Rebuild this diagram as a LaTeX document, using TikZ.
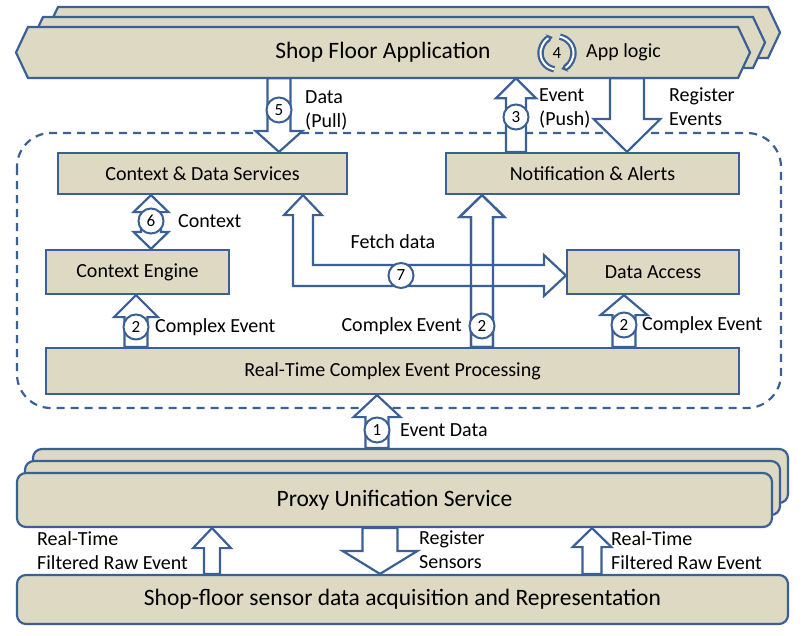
\documentclass[tikz,border=0pt]{standalone}
\usepackage{fontspec}
\setmainfont{Carlito}
\usetikzlibrary{calc,arrows.meta}
\definecolor{tanc}{RGB}{221,217,195}
\definecolor{bluec}{RGB}{58,96,150}
\tikzset{
  box/.style={draw=bluec, fill=tanc, line width=2.2pt, inner sep=0pt, font=\fontsize{20}{23}\selectfont},
  bigbox/.style={box, rounded corners=9pt, font=\fontsize{23.5}{27}\selectfont},
  blockarr/.style={draw=bluec, fill=white, line width=2.2pt, line join=miter},
  num/.style={circle, draw=bluec, fill=white, line width=2pt, minimum size=25pt, inner sep=0pt, font=\fontsize{17}{18}\selectfont},
  lbl/.style={inner sep=0pt, align=left, font=\fontsize{20}{24}\selectfont},
  cyc/.style={draw=bluec, line width=2.2pt, double=white, double distance=2pt},
}
\newcommand{\upblock}[7][]{%
  \filldraw[blockarr,#1] let \p1=(#3), \p2=(#4) in
    (#2pt-#5pt,\y1) -- (#2pt-#5pt,\y2-#7pt) -- (#2pt-#6pt,\y2-#7pt) -- (#2pt,\y2)
    -- (#2pt+#6pt,\y2-#7pt) -- (#2pt+#5pt,\y2-#7pt) -- (#2pt+#5pt,\y1) -- cycle;}
\newcommand{\downblock}[7][]{%
  \filldraw[blockarr,#1] let \p1=(#3), \p2=(#4) in
    (#2pt-#5pt,\y1) -- (#2pt-#5pt,\y2+#7pt) -- (#2pt-#6pt,\y2+#7pt) -- (#2pt,\y2)
    -- (#2pt+#6pt,\y2+#7pt) -- (#2pt+#5pt,\y2+#7pt) -- (#2pt+#5pt,\y1) -- cycle;}
\begin{document}
\begin{tikzpicture}[x=1pt,y=-1pt]
\useasboundingbox (0,0) rectangle (805,635);
\draw[bluec, line width=2.2pt, dash pattern=on 8pt off 6pt, rounded corners=34pt] (17,133) rectangle (781,408);

\foreach \d in {30,15,0}{
  \draw[box, shift={(\d,-\d/1.5)}] (16,52.5) -- (28,27) -- (738,27) -- (750,52.5) -- (738,78) -- (28,78) -- cycle;
}
\node[inner sep=0pt, minimum width=710pt, minimum height=51pt, font=\fontsize{23.5}{27}\selectfont] (app) at (383,52.5) {Shop Floor Application};

\node[box, minimum width=289pt, minimum height=41pt] (ctx) at (202.5,173.5) {Context \& Data Services};
\node[box, minimum width=293pt, minimum height=41pt] (notif) at (592.5,173.5) {Notification \& Alerts};
\node[box, minimum width=183pt, minimum height=44pt] (eng) at (137.5,272) {Context Engine};
\node[box, minimum width=172pt, minimum height=44pt] (da) at (653,272) {Data Access};
\node[box, minimum width=693pt, minimum height=46pt] (rtcep) at (392.5,371) {Real-Time Complex Event Processing};

\foreach \d in {16,8}{
  \node[bigbox, minimum width=755pt, minimum height=54pt] (proxy\d) at ({394.5+\d},{500-1.5*\d}) {};
}
\node[bigbox, minimum width=755pt, minimum height=54pt] (proxy) at (394.5,500) {Proxy Unification Service};
\node[bigbox, minimum width=771pt, minimum height=49pt] (sensor) at (402.5,599.5) {Shop-floor sensor data acquisition and Representation};

\upblock{377}{proxy16.north}{rtcep.south}{11.5}{23.5}{22}
\upblock{136}{rtcep.north}{eng.south}{11.5}{22}{22}
\upblock{482}{rtcep.north}{notif.south}{11}{22.5}{22}
\upblock{624}{rtcep.north}{da.south}{11.5}{23.5}{20}
\downblock{279}{app.south}{ctx.north}{11.5}{23.5}{21}
\upblock{516}{notif.north}{app.south}{10}{20}{20}
\downblock{627}{app.south}{notif.north}{17}{33.5}{33}
\filldraw[blockarr] let \p1=(eng.north), \p2=(ctx.south) in
  (151pt,\y2) -- (168.5pt,\y2-17pt) -- (161pt,\y2-17pt) -- (161pt,\y1+17pt) -- (168.5pt,\y1+17pt)
  -- (151pt,\y1) -- (133.5pt,\y1+17pt) -- (141pt,\y1+17pt) -- (141pt,\y2-17pt) -- (133.5pt,\y2-17pt) -- cycle;
\filldraw[blockarr] let \p1=(ctx.south), \p2=([yshift=-3.5pt]da.west) in
  (293pt,\y1-20pt) -- (284pt,\y1-20pt) -- (303pt,\y1) -- (322pt,\y1-20pt) -- (313pt,\y1-20pt)
  -- (313pt,\y2+10.5pt) -- (\x2-22pt,\y2+10.5pt) -- (\x2-22pt,\y2+20.5pt) -- (\x2,\y2)
  -- (\x2-22pt,\y2-20.5pt) -- (\x2-22pt,\y2-10.5pt) -- (293pt,\y2-10.5pt) -- cycle;
\upblock[fill=none]{482}{rtcep.north}{notif.south}{11}{22.5}{22}
\upblock{212}{sensor.north}{proxy.south}{8}{19}{20}
\downblock{380}{proxy.south}{sensor.north}{17.5}{37.5}{23}
\upblock{592}{sensor.north}{proxy.south}{9.5}{19.5}{19}

\node[num] (c1) at (377,430) {1};
\node[num] (c2a) at (136,327) {2};
\node[num] (c2b) at (482,326) {2};
\node[num] (c2c) at (624,325) {2};
\node[num] (c3) at (516,117) {3};
\node[num] (c5) at (279,110) {5};
\node[num] (c6) at (151,221) {6};
\node[num] (c7) at (401,275.5) {7};
\node[font=\fontsize{17}{18}\selectfont] (c4) at (557,53) {4};
\draw[cyc, -{Stealth[length=6pt,width=9pt]}] (c4.center) ++(100:16.5) arc[start angle=100, end angle=255, radius=16.5];
\draw[cyc, -{Stealth[length=6pt,width=9pt]}] (c4.center) ++(280:16.5) arc[start angle=280, end angle=435, radius=16.5];

\node[lbl, anchor=west] at (586,52.5) {App logic};
\node[lbl, anchor=west] at (305,110) {Data\\(Pull)};
\node[lbl, anchor=west] at (539,108.5) {Event\\(Push)};
\node[lbl, anchor=west] at (669,106.5) {Register\\Events};
\node[lbl, anchor=west] at (178,221) {Context};
\node[lbl] at (393,242) {Fetch data};
\node[lbl, anchor=west] at (155,327) {Complex Event};
\node[lbl, anchor=east] at (462,326) {Complex Event};
\node[lbl, anchor=west] at (642,325) {Complex Event};
\node[lbl, anchor=west] at (400,430) {Event Data};
\node[lbl, anchor=west] at (37,551) {Real-Time\\Filtered Raw Event};
\node[lbl, anchor=west] at (419,550) {Register\\Sensors};
\node[lbl, anchor=west] at (611,551) {Real-Time\\Filtered Raw Event};
\end{tikzpicture}
\end{document}
